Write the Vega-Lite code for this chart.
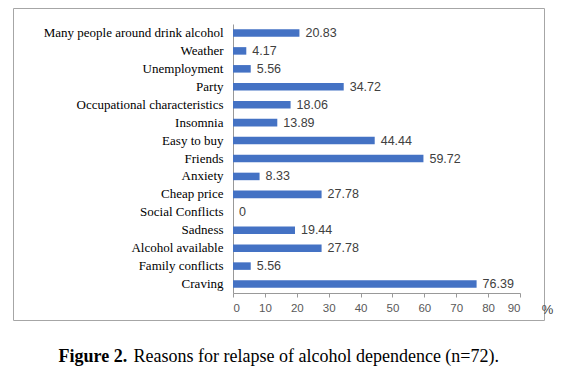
{
  "$schema": "https://vega.github.io/schema/vega-lite/v6.json",
  "width": 531,
  "height": 312,
  "autosize": {"type": "none"},
  "padding": {"left": 13, "top": 8, "right": 27, "bottom": 51},
  "background": "white",
  "config": {
    "view": {"stroke": "#a6a6a6", "strokeWidth": 1}
  },
  "title": {
    "text": "%",
    "orient": "right",
    "frame": "group",
    "anchor": "end",
    "angle": 0,
    "align": "center",
    "baseline": "middle",
    "offset": -8,
    "dy": -10,
    "font": "Liberation Sans",
    "fontSize": 13,
    "fontWeight": "normal",
    "color": "#404040"
  },
  "data": {
    "values": [
      {"reason": "Many people around drink alcohol", "pct": 20.83},
      {"reason": "Weather", "pct": 4.17},
      {"reason": "Unemployment", "pct": 5.56},
      {"reason": "Party", "pct": 34.72},
      {"reason": "Occupational characteristics", "pct": 18.06},
      {"reason": "Insomnia", "pct": 13.89},
      {"reason": "Easy to buy", "pct": 44.44},
      {"reason": "Friends", "pct": 59.72},
      {"reason": "Anxiety", "pct": 8.33},
      {"reason": "Cheap price", "pct": 27.78},
      {"reason": "Social Conflicts", "pct": 0},
      {"reason": "Sadness", "pct": 19.44},
      {"reason": "Alcohol available", "pct": 27.78},
      {"reason": "Family conflicts", "pct": 5.56},
      {"reason": "Craving", "pct": 76.39}
    ]
  },
  "encoding": {
    "y": {
      "field": "reason",
      "type": "nominal",
      "sort": null,
      "scale": {"range": [16, 285], "paddingInner": 0.58, "paddingOuter": 0.29},
      "axis": {
        "offset": -220,
        "ticks": false,
        "domainColor": "#999999",
        "domainWidth": 1,
        "labelFont": "Liberation Serif",
        "labelFontSize": 13,
        "labelColor": "#000000",
        "labelPadding": 10,
        "labelLimit": 300,
        "title": "Figure 2.",
        "titleFont": "Liberation Serif",
        "titleFontSize": 18,
        "titleFontWeight": "bold",
        "titleColor": "#000000",
        "titleAngle": 0,
        "titleAlign": "left",
        "titleBaseline": "alphabetic",
        "titleX": -175,
        "titleY": 353
      }
    },
    "x": {
      "field": "pct",
      "type": "quantitative",
      "scale": {"domain": [0, 90], "range": [220, 507], "nice": false},
      "axis": {
        "offset": -27,
        "values": [0, 10, 20, 30, 40, 50, 60, 70, 80, 90],
        "grid": false,
        "domainColor": "#999999",
        "tickColor": "#999999",
        "tickSize": 4,
        "labelFont": "Liberation Sans",
        "labelFontSize": 11.5,
        "labelColor": "#595959",
        "labelPadding": 5,
        "title": "Reasons for relapse of alcohol dependence (n=72).",
        "titleFont": "Liberation Serif",
        "titleFontSize": 18,
        "titleFontWeight": "normal",
        "titleColor": "#000000",
        "titleAlign": "left",
        "titleBaseline": "alphabetic",
        "titleX": 120,
        "titleY": 68
      }
    }
  },
  "layer": [
    {"mark": {"type": "bar", "color": "#4472C4"}},
    {
      "mark": {
        "type": "text",
        "align": "left",
        "baseline": "middle",
        "dx": 6,
        "font": "Liberation Sans",
        "fontSize": 12.5,
        "color": "#404040"
      },
      "encoding": {"text": {"field": "pct", "type": "quantitative", "format": ".2~f"}}
    }
  ]
}
